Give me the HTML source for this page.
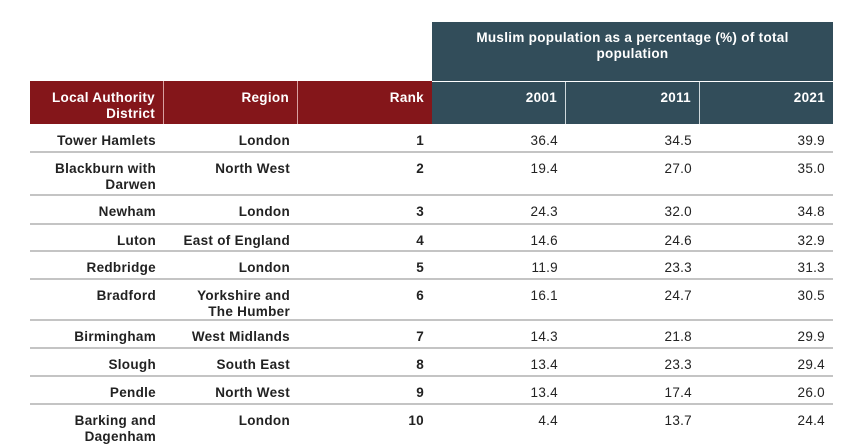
<!DOCTYPE html>
<html><head><meta charset="utf-8"><style>
body{margin:0;width:867px;height:445px;background:#fff;position:relative;overflow:hidden;font-family:"Liberation Sans",sans-serif;color:#222;}
.c{position:absolute;box-sizing:border-box;text-align:right;padding-right:8px;font-size:13.5px;line-height:16px;letter-spacing:0.3px;}
.h{color:#fff;font-weight:bold;}
.b{font-weight:bold;}
.line{position:absolute;left:30px;width:803px;height:2px;background:#c4c4c4;}
</style></head><body>
<div class="c h" style="left:432px;top:22px;width:401px;height:59px;background:#324d5a;text-align:center;padding:8px 30px 0 30px;">Muslim population as a percentage (%) of total population</div>
<div class="c h" style="left:30px;top:81px;width:134px;height:43px;background:#84161a;padding-top:9px;border-right:1px solid #d9a0a0">Local Authority District</div>
<div class="c h" style="left:164px;top:81px;width:134px;height:43px;background:#84161a;padding-top:9px;border-right:1px solid #d9a0a0">Region</div>
<div class="c h" style="left:298px;top:81px;width:134px;height:43px;background:#84161a;padding-top:9px">Rank</div>
<div class="c h" style="left:432px;top:82px;width:134px;height:42px;background:#324d5a;padding-top:8px;border-right:1px solid #cfd8dc">2001</div>
<div class="c h" style="left:566px;top:82px;width:134px;height:42px;background:#324d5a;padding-top:8px;border-right:1px solid #cfd8dc">2011</div>
<div class="c h" style="left:700px;top:82px;width:133px;height:42px;background:#324d5a;padding-top:8px">2021</div>
<div id="rows"></div>
<script>
var d=[["Tower Hamlets","London","1","36.4","34.5","39.9",124],
["Blackburn with Darwen","North West","2","19.4","27.0","35.0",152],
["Newham","London","3","24.3","32.0","34.8",195],
["Luton","East of England","4","14.6","24.6","32.9",224],
["Redbridge","London","5","11.9","23.3","31.3",251],
["Bradford","Yorkshire and The Humber","6","16.1","24.7","30.5",279],
["Birmingham","West Midlands","7","14.3","21.8","29.9",320],
["Slough","South East","8","13.4","23.3","29.4",348],
["Pendle","North West","9","13.4","17.4","26.0",376],
["Barking and Dagenham","London","10","4.4","13.7","24.4",404]];
var h="",xs=[30,164,298,432,566,700];
d.forEach(function(r){for(var i=0;i<6;i++){h+='<div class="c'+(i<3?' b':'')+'" style="left:'+xs[i]+'px;top:'+(r[6]+9)+'px;width:'+(i==5?133:134)+'px;'+(i<2?'padding-left:18px;':'')+'">'+r[i]+'</div>';}
if(r[6]>124)h+='<div class="line" style="top:'+(r[6]-1)+'px"></div>';});
document.getElementById('rows').innerHTML=h;
</script>
</body></html>
